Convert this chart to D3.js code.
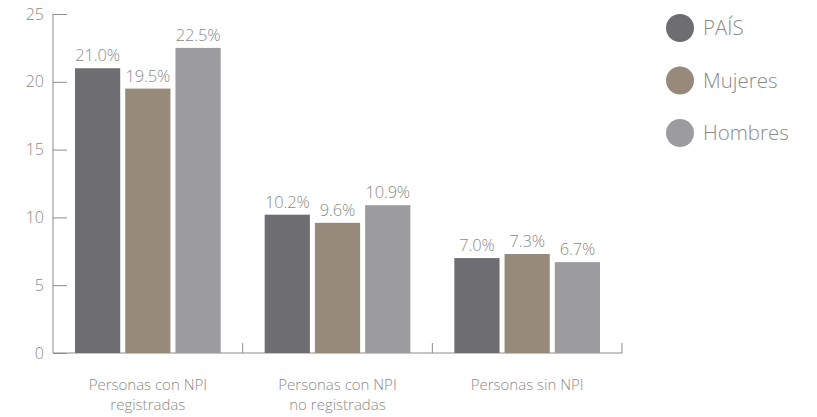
<!DOCTYPE html>
<html>
<head>
<meta charset="utf-8">
<script src="https://cdn.jsdelivr.net/npm/d3@7"></script>
<style>
  html, body { margin: 0; padding: 0; background: #fff; }
  svg text { font-family: "Open Sans", "Noto Sans", sans-serif; font-weight: 300; fill: #8a8a8a; }
</style>
</head>
<body>
<svg id="chart" width="817" height="417"></svg>
<script>
// Grouped bars: share of people by NPI registration status
const categories = [["Personas con NPI", "registradas"], ["Personas con NPI", "no registradas"], ["Personas sin NPI"]];
const seriesNames = ["PAÍS", "Mujeres", "Hombres"];
const seriesColors = ["#6e6d72", "#978a7b", "#9c9c9e"];
const pais    = [21.0, 10.2, 7.0];
const mujeres = [19.5, 9.6, 7.3];
const hombres = [22.5, 10.9, 6.7];
const yTicks = [0, 5, 10, 15, 20, 25];

const seriesValues = [pais, mujeres, hombres];

const svg = d3.select("#chart");
const margin = { left: 53, top: 14, right: 195, bottom: 64 };
const width = 817 - margin.left - margin.right;
const height = 417 - margin.top - margin.bottom;

const g = svg.append("g").attr("transform", `translate(${margin.left},${margin.top})`);

const x0 = d3.scaleBand().domain(d3.range(categories.length)).range([0, width]).paddingInner(0).paddingOuter(0);
const x1 = d3.scaleBand().domain(d3.range(seriesNames.length)).range([22, x0.bandwidth() - 22]).paddingInner(0.1);
const y = d3.scaleLinear().domain([0, 25]).range([height, 0]);

// Y axis with inward ticks
const yAxis = g.append("g").call(d3.axisLeft(y).tickValues(yTicks).tickSize(-14).tickPadding(24).tickFormat(d3.format("d")));
yAxis.select(".domain").attr("stroke", "#8c8c8c").attr("d", `M0,${height}V0`);
yAxis.selectAll(".tick line").attr("stroke", "#8c8c8c");
yAxis.selectAll(".tick text").attr("font-size", 16).attr("fill", "#8a8a8a").attr("x", -9);

// X baseline with category separators
const xAxis = g.append("g").attr("transform", `translate(0,${height})`);
xAxis.append("line").attr("x1", 0).attr("x2", width).attr("stroke", "#8c8c8c");
xAxis.selectAll("line.sep").data(d3.range(1, categories.length + 1)).join("line")
  .attr("class", "sep")
  .attr("x1", d => x0(d - 1) + x0.bandwidth()).attr("x2", d => x0(d - 1) + x0.bandwidth())
  .attr("y1", 0).attr("y2", -10).attr("stroke", "#8c8c8c");

// Bars
const groups = g.selectAll("g.cat").data(categories.map((c, i) => i)).join("g")
  .attr("class", "cat")
  .attr("transform", i => `translate(${x0(i)},0)`);

groups.selectAll("rect").data(i => seriesValues.map((s, k) => ({ k, v: s[i] }))).join("rect")
  .attr("x", d => x1(d.k))
  .attr("width", x1.bandwidth())
  .attr("y", d => y(d.v))
  .attr("height", d => height - y(d.v))
  .attr("fill", d => seriesColors[d.k]);

groups.selectAll("text.val").data(i => seriesValues.map((s, k) => ({ k, v: s[i] }))).join("text")
  .attr("class", "val")
  .attr("x", d => x1(d.k) + x1.bandwidth() / 2)
  .attr("y", d => y(d.v) - 7)
  .attr("text-anchor", "middle")
  .attr("font-size", 16.5)
  .attr("letter-spacing", -0.2)
  .text(d => d.v.toFixed(1) + "%");

// Category labels
groups.append("text")
  .attr("x", x0.bandwidth() / 2)
  .attr("y", height + 37)
  .attr("text-anchor", "middle")
  .attr("font-size", 15)
  .selectAll("tspan").data(i => categories[i]).join("tspan")
  .attr("x", x0.bandwidth() / 2)
  .attr("dy", (d, j) => j === 0 ? 0 : 20)
  .text(d => d);

// Legend
const legend = svg.append("g").attr("transform", "translate(680,28)");
const items = legend.selectAll("g").data(seriesNames).join("g")
  .attr("transform", (d, i) => `translate(0,${i * 52.5})`);
items.append("circle").attr("r", 14).attr("fill", (d, i) => seriesColors[i]);
items.append("text").attr("x", 23).attr("dy", "0.35em").attr("font-size", 20.5).text(d => d);
</script>
</body>
</html>
